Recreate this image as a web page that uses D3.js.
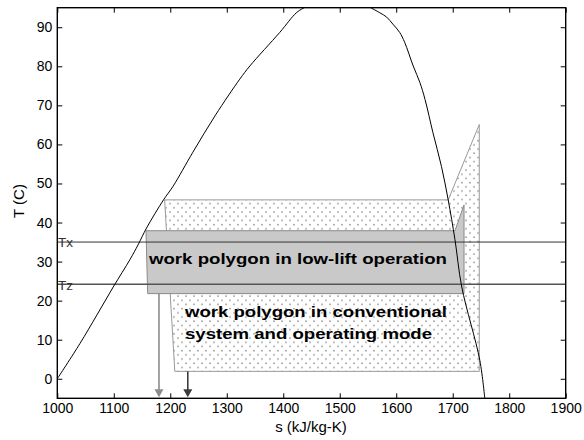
<!DOCTYPE html>
<html><head><meta charset="utf-8">
<script src="https://cdn.jsdelivr.net/npm/d3@7"></script>
<style>
html,body{margin:0;padding:0;background:#fff;}
svg{display:block;font-family:"Liberation Sans",Arial,Helvetica,sans-serif;}
</style></head>
<body><svg id="c" width="584" height="440"></svg>
<script>
// ---- data ----
const xTicks = [1000,1100,1200,1300,1400,1500,1600,1700,1800,1900];
const yTicks = [0,10,20,30,40,50,60,70,80,90];
const domeS = [1000,1040,1070,1099,1129,1143,1158,1188,1205,1240,1280,1323,1341,1394,1424,1441,1470,1495,1525,1551,1571,1583,1594,1606,1615,1630,1642,1651,1665,1680,1692,1704,1716,1748,1757];
const domeT = [0,9,16.3,23.5,30.6,34.3,38.6,45.8,49.3,58,67.5,76.7,80.1,88.7,93.8,95.3,97.6,98.2,97.5,95.3,93.7,92.6,90.8,88.7,86.1,80.1,75.8,71.5,63,54.4,45.8,35.6,23.5,4.7,-5.4];
const convS = [1190,1692,1747,1747,1208];
const convT = [45.8,45.8,65.1,1.9,1.9];
const lowS = [1157,1704,1720,1720,1160];
const lowT = [37.9,37.9,44.5,21.8,21.8];
const TxVal = 35, TzVal = 24.2;
const arrowS = [1180,1231];
const arrowFrom = [21.8,1.9];
const lowLabel = "work polygon in low-lift operation";
const convLabel = ["work polygon in conventional","system and operating mode"];

// ---- layout ----
const svg = d3.select("#c");
const x = d3.scaleLinear().domain([1000,1900]).range([57.3,565.7]);
const y = d3.scaleLinear().domain([-5,95]).range([398.3,7.7]);
const X0=x.range()[0], X1=x.range()[1], Y0=y.range()[0], Y1=y.range()[1];

const defs = svg.append("defs");
const pat = defs.append("pattern").attr("id","dots").attr("patternUnits","userSpaceOnUse")
  .attr("width",8).attr("height",8.4);
pat.append("rect").attr("width",8).attr("height",8.4).attr("fill","#fff");
pat.append("circle").attr("cx",2).attr("cy",2).attr("r",0.85).attr("fill","#929292");
pat.append("circle").attr("cx",6).attr("cy",6.2).attr("r",0.85).attr("fill","#929292");
defs.append("clipPath").attr("id","clip").append("rect")
  .attr("x",X0).attr("y",Y1).attr("width",X1-X0).attr("height",Y0-Y1);

const poly = (S,T)=>S.map((s,i)=>[x(s),y(T[i])].join(",")).join(" ");

const g = svg.append("g").attr("clip-path","url(#clip)");
g.append("polygon").attr("points",poly(convS,convT))
  .attr("fill","url(#dots)").attr("stroke","#999").attr("stroke-width",1);
g.append("polygon").attr("points",poly(lowS,lowT))
  .attr("fill","#c9c9c9").attr("stroke","#8a8a8a").attr("stroke-width",1);

// Tx, Tz lines
g.append("line").attr("x1",X0).attr("x2",X1).attr("y1",y(TxVal)).attr("y2",y(TxVal))
  .attr("stroke","#333").attr("stroke-width",1);
g.append("line").attr("x1",X0).attr("x2",X1).attr("y1",y(TzVal)).attr("y2",y(TzVal))
  .attr("stroke","#555").attr("stroke-width",1.6);

// dome
const line = d3.line().x(d=>x(d[0])).y(d=>y(d[1])).curve(d3.curveMonotoneY);
const domePts = domeS.map((s,i)=>[s,domeT[i]]);
const line2 = d3.line().x(d=>x(d[0])).y(d=>y(d[1])).curve(d3.curveCatmullRom.alpha(0.5));
g.append("path").attr("d",line2(domePts))
  .attr("fill","none").attr("stroke","#000").attr("stroke-width",1);

// arrows
const arrowCol = ["#8c8c8c","#3c3c3c"];
arrowS.forEach((s,i)=>{
  const ax = x(s), ay = y(arrowFrom[i]);
  svg.append("line").attr("x1",ax).attr("x2",ax).attr("y1",ay).attr("y2",Y0-7)
    .attr("stroke",arrowCol[i]).attr("stroke-width",1.6);
  svg.append("path").attr("d",`M${ax-4.5},${Y0-9}L${ax+4.5},${Y0-9}L${ax},${Y0-1}Z`)
    .attr("fill",arrowCol[i]);
});

// labels
svg.append("text").attr("x",58).attr("y",y(TxVal)+5).attr("font-size",13.5).attr("fill","#333").text("Tx");
svg.append("text").attr("x",58).attr("y",y(TzVal)+5.5).attr("font-size",13.5).attr("fill","#333").text("Tz");
svg.append("text").attr("x",149).attr("y",264).attr("font-size",15).attr("font-weight","bold")
  .attr("textLength",298).attr("lengthAdjust","spacingAndGlyphs").text(lowLabel);
const convW=[262,247];
convLabel.forEach((t,i)=>{
  svg.append("text").attr("x",185).attr("y",317+i*22).attr("font-size",15).attr("font-weight","bold")
    .attr("textLength",convW[i]).attr("lengthAdjust","spacingAndGlyphs").text(t);
});

// axes
const fmt = d3.format("d");
const axB = svg.append("g").attr("transform",`translate(0,${Y0})`)
  .call(d3.axisBottom(x).tickValues(xTicks).tickSize(-5).tickSizeOuter(0).tickPadding(5).tickFormat(fmt));
const axL = svg.append("g").attr("transform",`translate(${X0},0)`)
  .call(d3.axisLeft(y).tickValues(yTicks).tickSize(-5).tickSizeOuter(0).tickPadding(5).tickFormat(fmt));
const axT = svg.append("g").attr("transform",`translate(0,${Y1})`)
  .call(d3.axisTop(x).tickValues(xTicks).tickSize(-5).tickSizeOuter(0).tickFormat(""));
const axR = svg.append("g").attr("transform",`translate(${X1},0)`)
  .call(d3.axisRight(y).tickValues(yTicks).tickSize(-5).tickSizeOuter(0).tickFormat(""));
[axB,axL,axT,axR].forEach(a=>{
  a.select(".domain").remove();
  a.selectAll("text").attr("font-size",14).attr("font-family","Liberation Sans, Arial, sans-serif").attr("fill","#000");
  a.selectAll("line").attr("stroke","#000");
});
svg.append("rect").attr("x",X0).attr("y",Y1).attr("width",X1-X0).attr("height",Y0-Y1)
  .attr("fill","none").attr("stroke","#000").attr("stroke-width",1.4);

// titles
svg.append("text").attr("x",311).attr("y",432).attr("text-anchor","middle").attr("font-size",15).text("s (kJ/kg-K)");
svg.append("text").attr("transform","translate(24,201) rotate(-90)").attr("text-anchor","middle").attr("font-size",15).text("T (C)");
</script></body></html>
